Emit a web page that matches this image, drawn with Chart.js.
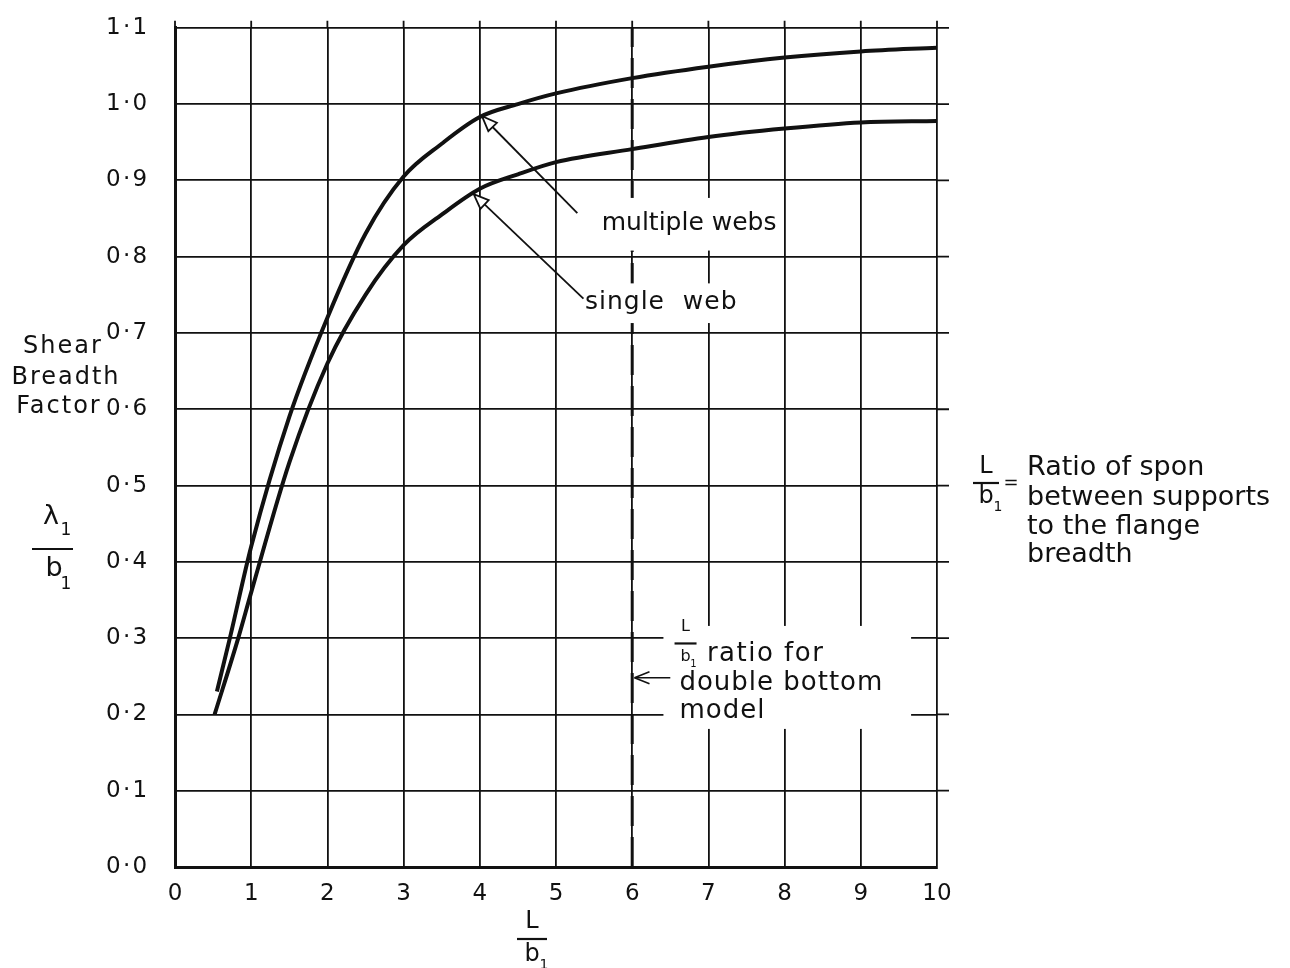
<!DOCTYPE html>
<html>
<head>
<meta charset="utf-8">
<script src="https://cdn.jsdelivr.net/npm/chart.js@4.4.1/dist/chart.umd.min.js"></script>
<style>
  html, body { margin: 0; padding: 0; background: #fff; }
  #wrap { width: 1290px; height: 968px; }
</style>
</head>
<body>
<div id="wrap"><canvas id="chart" width="1290" height="968"></canvas></div>
<script>
// values (L/b1 against lambda1/b1)
const ratioTicks = [0, 1, 2, 3, 4, 5, 6, 7, 8, 9, 10];
const factorTicks = [0, 0.1, 0.2, 0.3, 0.4, 0.5, 0.6, 0.7, 0.8, 0.9, 1.0, 1.1];

const multipleWebsX = [0.55, 0.72, 1, 1.5, 2, 2.5, 3, 3.5, 4, 4.5, 5, 6, 7, 8, 9, 10];
const multipleWebsY = [0.23, 0.3, 0.42, 0.59, 0.72, 0.83, 0.905, 0.948, 0.983, 1.0, 1.014, 1.034, 1.049, 1.061, 1.069, 1.074];

const singleWebX = [0.52, 0.83, 1, 1.5, 2, 2.5, 3, 3.5, 4, 4.5, 5, 6, 7, 8, 9, 10];
const singleWebY = [0.2, 0.3, 0.36, 0.53, 0.66, 0.75, 0.815, 0.855, 0.889, 0.908, 0.924, 0.941, 0.957, 0.968, 0.976, 0.978];

const doubleBottomRatio = 6;
const doubleBottomSpan = [0, 1.1];

const FONT = '"DejaVu Sans", sans-serif';
const INK = '#111';
const HAIR = '\u200a';

const toPoints = (xs, ys) => xs.map((x, i) => ({ x: x, y: ys[i] }));

function drawArrow(ctx, x0, y0, x1, y1, open) {
  ctx.save();
  const ang = Math.atan2(y1 - y0, x1 - x0);
  const len = 15, half = 6;
  const bx = x1 - len * Math.cos(ang), by = y1 - len * Math.sin(ang);
  ctx.beginPath();
  ctx.moveTo(x0, y0);
  ctx.lineTo(open ? bx : x1, open ? by : y1);
  ctx.stroke();
  ctx.beginPath();
  ctx.moveTo(x1, y1);
  ctx.lineTo(bx + half * Math.sin(ang), by - half * Math.cos(ang));
  if (open) {
    ctx.lineTo(bx - half * Math.sin(ang), by + half * Math.cos(ang));
    ctx.closePath();
    ctx.fillStyle = '#fff';
    ctx.fill();
    ctx.stroke();
  } else {
    ctx.moveTo(x1, y1);
    ctx.lineTo(bx - half * Math.sin(ang), by + half * Math.cos(ang));
    ctx.stroke();
  }
  ctx.restore();
}

// L over b1 centred on cx
function drawFraction(ctx, cx, lY, barY, bY, size, barHalf) {
  ctx.save();
  ctx.textAlign = 'center';
  ctx.textBaseline = 'middle';
  ctx.font = size + 'px ' + FONT;
  ctx.fillText('L', cx, lY);
  ctx.lineWidth = 2.2;
  ctx.beginPath();
  ctx.moveTo(cx - barHalf, barY);
  ctx.lineTo(cx + barHalf, barY);
  ctx.stroke();
  ctx.fillText('b', cx, bY);
  ctx.font = Math.round(size * 0.6) + 'px ' + FONT;
  ctx.fillText('1', cx + size * 0.5, bY + size * 0.45);
  ctx.restore();
}

function spacedText(ctx, text, x, y, spacing) {
  ctx.letterSpacing = spacing + 'px';
  ctx.fillText(text, x, y);
  ctx.letterSpacing = '0px';
}

const gridStubs = {
  id: 'gridStubs',
  beforeDatasetsDraw(chart) {
    const ctx = chart.ctx;
    const area = chart.chartArea;
    ctx.save();
    ctx.strokeStyle = INK;
    ctx.lineWidth = 1.8;
    ctx.beginPath();
    factorTicks.slice(1).forEach(v => {
      const y = chart.scales.y.getPixelForValue(v);
      ctx.moveTo(area.right, y);
      ctx.lineTo(area.right + 12, y);
    });
    ratioTicks.forEach(v => {
      const x = chart.scales.x.getPixelForValue(v);
      ctx.moveTo(x, area.top);
      ctx.lineTo(x, area.top - 7);
    });
    ctx.stroke();
    ctx.restore();
  }
};

const annotations = {
  id: 'annotations',
  afterDatasetsDraw(chart) {
    const ctx = chart.ctx;
    const sx = v => chart.scales.x.getPixelForValue(v);
    const sy = v => chart.scales.y.getPixelForValue(v);
    ctx.save();

    // white breaks in the grid behind the labels
    ctx.fillStyle = '#fff';
    [[5.55, 7.93, 0.877, 0.808], [5.3, 7.65, 0.765, 0.713], [6.41, 9.66, 0.316, 0.181]].forEach(b => {
      ctx.fillRect(sx(b[0]), sy(b[2]), sx(b[1]) - sx(b[0]), sy(b[3]) - sy(b[2]));
    });

    ctx.fillStyle = INK;
    ctx.strokeStyle = INK;
    ctx.lineWidth = 1.8;
    ctx.font = '25px ' + FONT;
    ctx.textAlign = 'left';
    ctx.textBaseline = 'middle';
    spacedText(ctx, 'multiple webs', sx(5.6), sy(0.844), 0);
    spacedText(ctx, 'single  web', sx(5.38), sy(0.74), 1);
    drawArrow(ctx, sx(5.28), sy(0.857), sx(4.03), sy(0.984), true);
    drawArrow(ctx, sx(5.36), sy(0.745), sx(3.92), sy(0.882), true);

    // double bottom note
    ctx.font = '26px ' + FONT;
    spacedText(ctx, 'ratio for', sx(6.98), sy(0.279), 1.5);
    spacedText(ctx, 'double bottom', sx(6.62), sy(0.241), 1);
    spacedText(ctx, 'model', sx(6.62), sy(0.204), 1);
    drawFraction(ctx, sx(6.7), sy(0.315), sy(0.293), sy(0.275), 16, 11);
    ctx.lineWidth = 1.6;
    drawArrow(ctx, sx(6.5), sy(0.248), sx(6.03), sy(0.248), false);

    // axis titles
    ctx.textAlign = 'center';
    ctx.font = '24px ' + FONT;
    spacedText(ctx, 'Shear', 63, 347, 2);
    spacedText(ctx, 'Breadth', 66, 378, 2);
    spacedText(ctx, 'Factor', 59, 407, 2);

    ctx.font = '27px ' + FONT;
    ctx.fillText('\u03bb', 51, 517);
    ctx.fillText('b', 54, 569);
    ctx.font = '17px ' + FONT;
    ctx.fillText('1', 66, 531);
    ctx.fillText('1', 66, 585);
    ctx.lineWidth = 2.2;
    ctx.beginPath();
    ctx.moveTo(32, 549);
    ctx.lineTo(73, 549);
    ctx.stroke();

    drawFraction(ctx, 532, 922, 939, 955, 24, 15);
    drawFraction(ctx, 986, 467, 483, 497, 24, 13);
    ctx.font = '18px ' + FONT;
    ctx.textAlign = 'center';
    ctx.fillText('=', 1011, 483);

    ctx.font = '27px ' + FONT;
    ctx.textAlign = 'left';
    ctx.fillText('Ratio of spon', 1027, 468);
    ctx.fillText('between supports', 1027, 498);
    ctx.fillText('to the flange', 1027, 527);
    ctx.fillText('breadth', 1027, 555);

    ctx.restore();
  }
};

new Chart(document.getElementById('chart'), {
  type: 'line',
  data: {
    datasets: [
      {
        label: 'multiple webs',
        data: toPoints(multipleWebsX, multipleWebsY),
        borderColor: INK,
        borderWidth: 4,
        pointRadius: 0,
        cubicInterpolationMode: 'monotone'
      },
      {
        label: 'single web',
        data: toPoints(singleWebX, singleWebY),
        borderColor: INK,
        borderWidth: 4,
        pointRadius: 0,
        cubicInterpolationMode: 'monotone'
      },
      {
        label: 'double bottom model',
        data: doubleBottomSpan.map(y => ({ x: doubleBottomRatio, y: y })),
        borderColor: INK,
        borderWidth: 3,
        borderDash: [30, 11],
        pointRadius: 0
      }
    ]
  },
  options: {
    responsive: false,
    animation: false,
    layout: { padding: { left: 106, top: 24, right: 353, bottom: 0 } },
    plugins: { legend: { display: false }, tooltip: { enabled: false } },
    scales: {
      x: {
        type: 'linear',
        min: 0,
        max: 10,
        afterBuildTicks: s => { s.ticks = ratioTicks.map(v => ({ value: v })); },
        afterFit: s => { s.height = 101; },
        ticks: {
          color: INK,
          font: { family: 'DejaVu Sans', size: 23 },
          padding: 13,
          callback: v => String(v)
        },
        grid: { color: INK, lineWidth: 1.8, drawTicks: false },
        border: { color: INK, width: 3 }
      },
      y: {
        type: 'linear',
        min: 0,
        max: 1.1,
        afterBuildTicks: s => { s.ticks = factorTicks.map(v => ({ value: v })); },
        afterFit: s => { s.width = 69; },
        ticks: {
          color: INK,
          font: { family: 'DejaVu Sans', size: 23 },
          crossAlign: 'far',
          padding: 14,
          callback: v => v.toFixed(1).replace('.', HAIR + '\u00b7' + HAIR)
        },
        grid: { color: INK, lineWidth: 1.8, drawTicks: false },
        border: { color: INK, width: 3 }
      }
    }
  },
  plugins: [gridStubs, annotations]
});
</script>
</body>
</html>
